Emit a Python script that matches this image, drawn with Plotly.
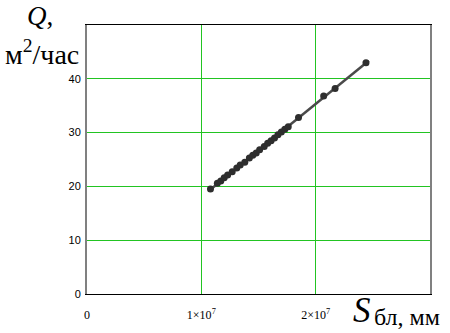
import numpy as np
import plotly.graph_objects as go

# Data (S in mm^2, Q in m^2/час)
S_vals = [1.08e7, 1.14e7, 1.17e7, 1.20e7, 1.23e7, 1.27e7, 1.31e7, 1.34e7, 1.38e7,
          1.42e7, 1.45e7, 1.48e7, 1.51e7, 1.55e7, 1.58e7, 1.61e7, 1.64e7, 1.67e7,
          1.70e7, 1.73e7, 1.76e7, 1.85e7, 2.07e7, 2.17e7, 2.44e7]
Q_vals = [19.5, 20.6, 21.0, 21.6, 22.1, 22.7, 23.4, 24.0, 24.5,
          25.3, 25.8, 26.2, 26.8, 27.4, 28.0, 28.5, 29.0, 29.6,
          30.1, 30.6, 31.1, 32.8, 36.8, 38.2, 43.0]
x_ticks = [0, 1e7, 2e7]
x_tick_text = ["0", "1×10<sup>7</sup>", "2×10<sup>7</sup>"]
y_ticks = [0, 10, 20, 30, 40]

coef = np.polyfit(S_vals, Q_vals, 1)
S_line = np.array([min(S_vals), max(S_vals) * 1.01])
Q_line = np.polyval(coef, S_line)

fig = go.Figure()
fig.add_trace(go.Scatter(x=S_line, y=Q_line, mode="lines",
                         line=dict(color="#4a4a4a", width=2.5), showlegend=False))
fig.add_trace(go.Scatter(x=S_vals, y=Q_vals, mode="markers",
                         marker=dict(color="#2e2e2e", size=7), showlegend=False))

L, R, T, B = 87, 20, 25, 39
W, H = 450, 333
pw, ph = W - L - R, H - T - B

def px(x):
    return (x - L) / pw

def py(y):
    return (H - B - y) / ph

fig.update_layout(
    width=W, height=H,
    margin=dict(l=L, r=R, t=T, b=B, pad=0, autoexpand=False),
    paper_bgcolor="white", plot_bgcolor="white",
    xaxis=dict(range=[0, 3e7], tickvals=x_ticks, ticktext=x_tick_text,
               showgrid=True, gridcolor="#22c422", gridwidth=1.4,
               showline=True, linecolor="black", linewidth=1, mirror=True,
               zeroline=False, ticks="", ticklabelstandoff=10, automargin=False,
               tickfont=dict(family="Liberation Serif", size=12, color="black")),
    yaxis=dict(range=[0, 50], tickvals=y_ticks,
               showgrid=True, gridcolor="#22c422", gridwidth=1,
               showline=True, linecolor="#808080", linewidth=2, mirror=True,
               zeroline=False, ticks="", ticklabelstandoff=2, automargin=False,
               tickfont=dict(family="Liberation Sans", size=11, color="black")),
    annotations=[
        dict(text="<i>Q</i>,", x=px(40), y=py(16), xref="paper", yref="paper",
             xanchor="center", yanchor="middle", showarrow=False,
             font=dict(family="Liberation Serif", size=27, color="black")),
        dict(text="м<sup>2</sup>/час", x=px(42), y=py(52), xref="paper", yref="paper",
             xanchor="center", yanchor="middle", showarrow=False,
             font=dict(family="Liberation Serif", size=28, color="black")),
        dict(text="<i>S</i>", x=px(362), y=py(310), xref="paper", yref="paper",
             xanchor="center", yanchor="middle", showarrow=False,
             font=dict(family="Liberation Serif", size=35, color="black")),
        dict(text="бл, мм", x=px(372), y=py(317), xref="paper", yref="paper",
             xanchor="left", yanchor="middle", showarrow=False,
             font=dict(family="Liberation Serif", size=24, color="black")),
    ],
)

fig.write_html("out.html", config={"displayModeBar": False},
               post_script="document.body.style.margin='0';")
